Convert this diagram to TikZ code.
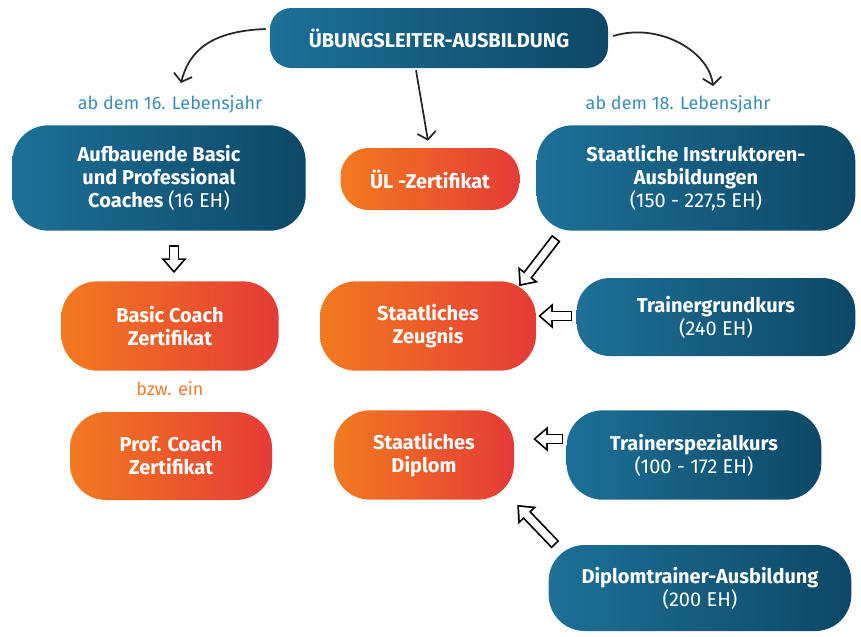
\documentclass[tikz,border=0pt]{standalone}
\usepackage{fontspec}
\setmainfont{Fira Sans}
\usetikzlibrary{arrows.meta,calc}

\definecolor{tealL}{HTML}{1D7097}
\definecolor{tealR}{HTML}{0E4866}
\definecolor{orangeL}{HTML}{F27A1F}
\definecolor{orangeR}{HTML}{E53B37}
\definecolor{agecolor}{HTML}{3A8DB5}
\definecolor{bzwcolor}{HTML}{EF7D32}

\begin{document}
\begin{tikzpicture}[
    x = 0.75pt, y = -0.75pt, % pixel grid, y downwards
    curvy/.style = {line width=1.3pt, black!85, -{Straight Barb[length=5.5pt,width=14pt]}}, % hand drawn arrows
    hollowout/.style = {line width=8pt, black, -{Triangle[length=11pt,width=19pt,line width=0pt]}},
    hollowin/.style = {line width=5.4pt, white, shorten <=1.3pt, shorten >=1.99pt,
                       -{Triangle[length=7.71pt,width=13.3pt,line width=0pt]}}
    ]

    \tikzset{
    box/.style = {text=white, align=center, inner sep=0pt, rounded corners=27pt,
                  font=\fontsize{15}{17.3}\selectfont\bfseries},
    bluebox/.style = {box, left color=tealL, right color=tealR},
    orangebox/.style = {box, left color=orangeL, right color=orangeR},
    agelabel/.style = {text=agecolor, font=\fontsize{13.5}{17}\selectfont}
    }

    \useasboundingbox (0,0) rectangle (861,636);

    \node[bluebox, minimum width=253.5pt, minimum height=45pt, rounded corners=16pt] (top) at (439,38) {ÜBUNGSLEITER-AUSBILDUNG};

    \node[agelabel] (lab16) at (170,104) {ab dem 16. Lebensjahr};
    \node[agelabel] (lab18) at (678,104) {ab dem 18. Lebensjahr};

    \node[bluebox, minimum width=220pt, minimum height=79pt] (lbig) at (159,178) {Aufbauende Basic\\und Professional\\Coaches {\mdseries(16 EH)}};
    \node[orangebox, minimum width=134pt, minimum height=46.5pt, rounded corners=21pt] (zert) at (430,179) {ÜL -Zertifikat};
    \node[bluebox, minimum width=239pt, minimum height=79pt] (rbig) at (696,178) {Staatliche Instruktoren-\\Ausbildungen\\{\mdseries(150 - 227,5 EH)}};

    \node[orangebox, minimum width=163pt, minimum height=67pt] (basic) at (170,326) {Basic Coach\\Zertifikat};
    \node[orangebox, minimum width=162pt, minimum height=67pt] (zeugnis) at (428,326) {Staatliches\\Zeugnis};
    \node[bluebox, minimum width=209pt, minimum height=58.5pt, rounded corners=25pt] (grund) at (716,317) {Trainergrundkurs\\{\mdseries(240 EH)}};

    \node[text=bzwcolor, font=\fontsize{13.5}{17}\selectfont] (bzw) at (170,389) {bzw. ein};

    \node[orangebox, minimum width=151.5pt, minimum height=66pt] (prof) at (171,456) {Prof. Coach\\Zertifikat};
    \node[orangebox, minimum width=135pt, minimum height=67pt] (diplom) at (424,455) {Staatliches\\Diplom};
    \node[bluebox, minimum width=191pt, minimum height=67pt] (spezial) at (694,455) {Trainerspezialkurs\\{\mdseries(100 - 172 EH)}};

    \node[bluebox, minimum width=227pt, minimum height=64.5pt] (dtrainer) at (700,588) {Diplomtrainer-Ausbildung\\{\mdseries(200 EH)}};

    % curved arrows from the top box
    \coordinate (c16) at (181,83);
    \coordinate (c18) at (713,86);
    \coordinate (cul) at ($(zert.north)+(-2,-7)$);
    \draw[curvy] ($(top.west)+(-4,-9)$) .. controls +(-55,2) and +(8,-32) .. (c16);
    \draw[curvy] ($(top.east)+(5,-2)$) .. controls +(45,-14) and +(-4,-35) .. (c18);
    \draw[curvy] ($(top.south)+(-23,2)$) -- (cul);

    % hollow block arrows
    \coordinate (h1a) at ($(basic.north)+(4,-36)$);
    \coordinate (h1b) at ($(basic.north)+(4,-8)$);
    \coordinate (h2a) at ($(zeugnis.north east)+(20,-43)$);
    \coordinate (h2b) at ($(zeugnis.north east)+(-17,5)$);
    \coordinate (h3a) at ($(grund.west)+(-4,-1)$);
    \coordinate (h3b) at ($(zeugnis.east)+(2,-10)$);
    \coordinate (h4a) at ($(spezial.west)+(-3,-16)$);
    \coordinate (h4b) at ($(diplom.east)+(19,-16)$);
    \coordinate (h5a) at ($(dtrainer.north west)+(7,0)$);
    \coordinate (h5b) at ($(diplom.south east)+(3,5)$);

    \foreach \s/\e in {h1a/h1b, h2a/h2b, h3a/h3b, h4a/h4b, h5a/h5b} {
        \draw[hollowout] (\s) -- (\e);
        \draw[hollowin] (\s) -- (\e);
    }
\end{tikzpicture}
\end{document}
